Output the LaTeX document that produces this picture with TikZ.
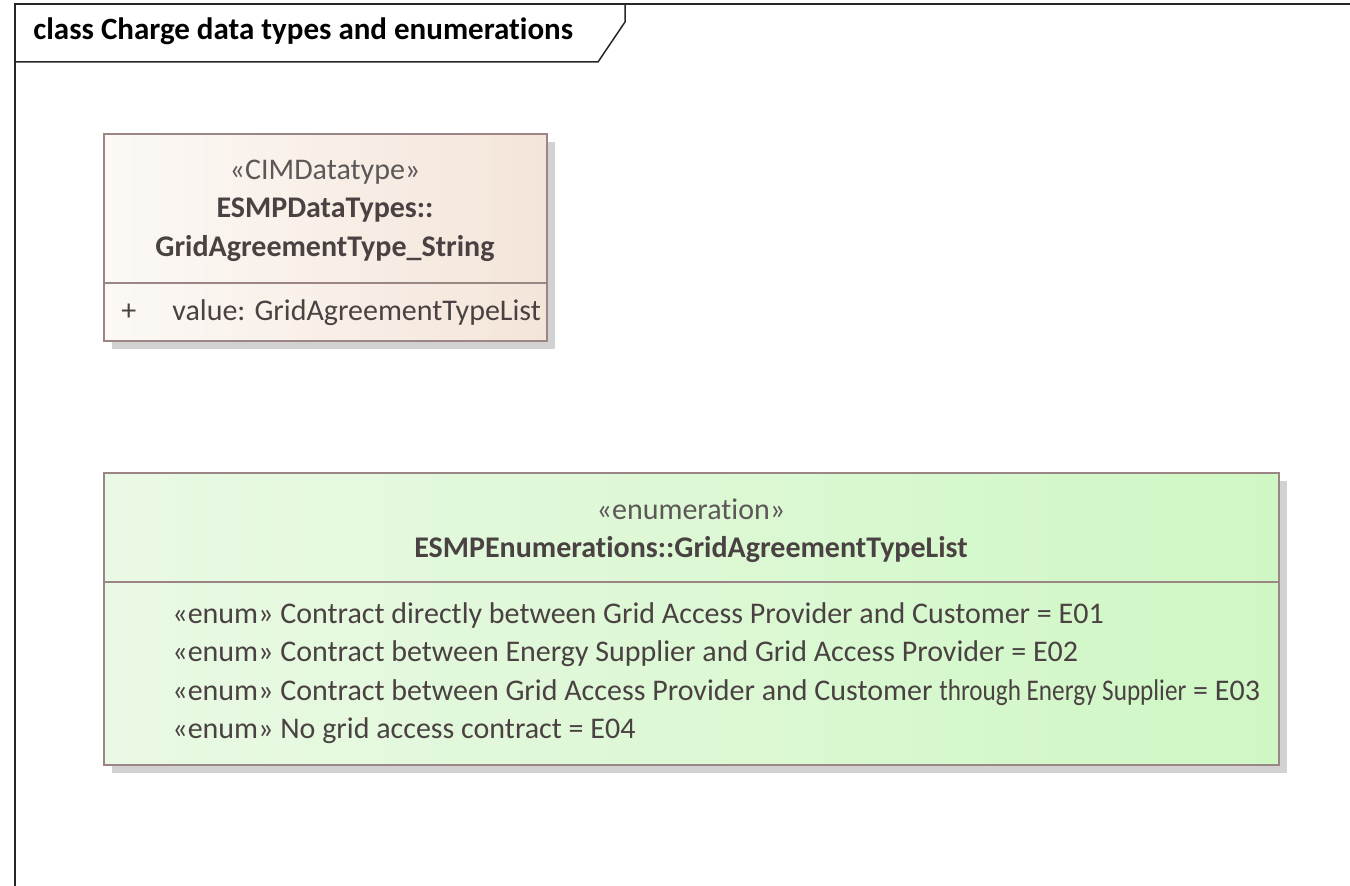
\documentclass[tikz,border=0pt]{standalone}
\usepackage{fontspec}
\setmainfont{Carlito}[Ligatures=NoCommon]
\usetikzlibrary{positioning}

\definecolor{umlline}{HTML}{9C8585}
\definecolor{umltext}{HTML}{4A4242}
\definecolor{umlster}{HTML}{5C5858}
\definecolor{dtleft}{HTML}{FCF9F6}
\definecolor{dtright}{HTML}{F4E5D9}
\definecolor{enleft}{HTML}{EAF9E5}
\definecolor{enright}{HTML}{CFF7C4}
\definecolor{boxshadow}{HTML}{D2D2D2}

\begin{document}
\begin{tikzpicture}[x=0.5pt, y=-0.5pt, font=\fontsize{15}{18}\selectfont,
    frameline/.style={draw=black!85, line width=0.75pt},
    boxline/.style={draw=umlline, line width=0.7pt},
    ster/.style={text=umlster, inner sep=0pt, anchor=mid},
    bname/.style={text=umltext, inner sep=0pt, anchor=mid, font=\fontsize{15}{18}\selectfont\bfseries},
    item/.style={text=umltext, inner sep=0pt, anchor=mid west}]
    \useasboundingbox (0, 0) rectangle (1350, 886);

    % diagram frame with its tab
    \draw[frameline] (1350, 4) -- (15, 4) -- (15, 886);
    \draw[frameline] (15, 62) -- (598, 62) -- (625, 22) -- (625, 4);
    \node[item, text=black, font=\fontsize{15.5}{18}\selectfont\bfseries] (title) at (33, 35) {class Charge data types and enumerations};

    % CIMDatatype
    \fill[boxshadow] (112, 142) rectangle (555, 349);
    \shade[left color=dtleft, right color=dtright] (104, 134) rectangle (547, 341);
    \draw[boxline] (104, 134) rectangle (547, 341) (104, 283) -- (547, 283);
    \node[ster] (dtster) at (325, 175) {«CIMDatatype»};
    \node[bname] (dtpkg) at (325, 213) {ESMPDataTypes::};
    \node[bname] (dtname) at (325, 252) {GridAgreementType\_String};
    \node[item] (dtplus) at (121, 316) {+};
    \node[item] (dtvalue) at (172, 316) {value: GridAgreementTypeList};

    % enumeration
    \fill[boxshadow] (112, 481) rectangle (1287, 773);
    \shade[left color=enleft, right color=enright] (104, 473) rectangle (1279, 765);
    \draw[boxline] (104, 473) rectangle (1279, 765) (104, 582) -- (1279, 582);
    \node[ster] (enster) at (691, 515) {«enumeration»};
    \node[bname] (enname) at (691, 553) {ESMPEnumerations::GridAgreementTypeList};
    \node[item] (enone) at (172, 619) {«enum» Contract directly between Grid Access Provider and Customer = E01};
    \node[item] (entwo) at (172, 657) {«enum» Contract between Energy Supplier and Grid Access Provider = E02};
    \node[item] (enthree) at (172, 696) {«enum» Contract between Grid Access Provider and Customer \scalebox{0.84}[1]{through Energy Supplier} = E03};
    \node[item] (enfour) at (172, 734) {«enum» No grid access contract = E04};
\end{tikzpicture}
\end{document}
